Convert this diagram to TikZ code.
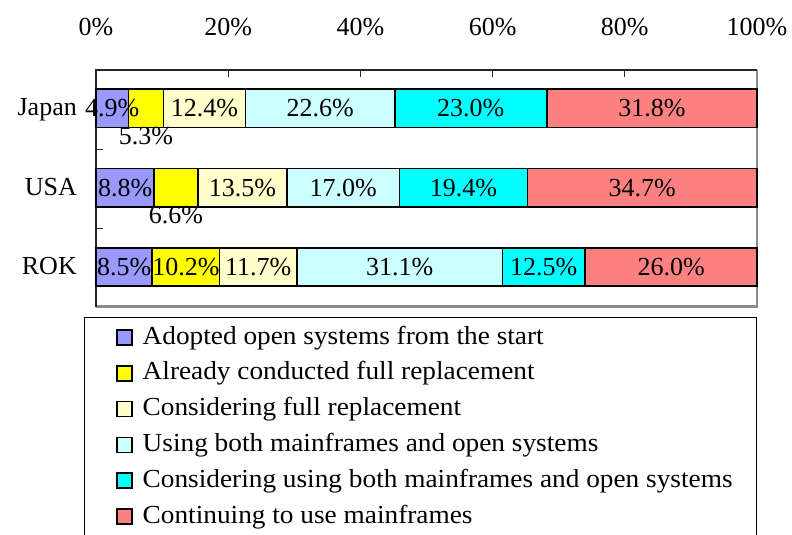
\documentclass[tikz,border=0pt]{standalone}
\usepackage{fontspec}
\setmainfont{Liberation Serif}
\newfontfamily\legendfont{Liberation Serif}[FakeStretch=1.05]

\definecolor{openstart}{HTML}{9999FF}
\definecolor{fullrepl}{HTML}{FFFF00}
\definecolor{consrepl}{HTML}{FFFFCC}
\definecolor{bothuse}{HTML}{CCFFFF}
\definecolor{consboth}{HTML}{00FFFF}
\definecolor{mainfr}{HTML}{FF8080}

\tikzset{
  seg/.style={draw=black, line width=1.6pt},
  val/.style={anchor=center, inner sep=0pt},
  tick/.style={line width=0.8pt, black!85},
  keybox/.style={draw=black, line width=1.5pt, minimum size=15pt, inner sep=0pt},
  keytext/.style={anchor=base west, inner sep=0pt, font=\fontsize{26}{31}\legendfont},
}

\begin{document}
\begin{tikzpicture}[x=1pt, y=-1pt, line join=miter, font=\fontsize{26}{31}\selectfont]

  %% ════ plot area ════
  \draw[line width=2.2pt, black!45] (757,70) -- (757,306.5) -- (96,306.5);
  \draw[line width=1.2pt, black!85] (96,306.5) -- (96,70) -- (757,70);
  \draw[tick] (228.2,70) -- (228.2,77);
  \draw[tick] (360.4,70) -- (360.4,77);
  \draw[tick] (492.6,70) -- (492.6,77);
  \draw[tick] (624.8,70) -- (624.8,77);
  \draw[tick] (96,149) -- (103,149);
  \draw[tick] (96,228.3) -- (103,228.3);

  %% ════ axis labels ════
  \node[anchor=base, inner sep=0pt] (p0) at (96,36) {0\%};
  \node[anchor=base, inner sep=0pt] (p20) at (228.2,36) {20\%};
  \node[anchor=base, inner sep=0pt] (p40) at (360.4,36) {40\%};
  \node[anchor=base, inner sep=0pt] (p60) at (492.6,36) {60\%};
  \node[anchor=base, inner sep=0pt] (p80) at (624.8,36) {80\%};
  \node[anchor=base, inner sep=0pt] (p100) at (757,36) {100\%};

  \node[anchor=base east, inner sep=0pt] (japan) at (77,115.5) {Japan};
  \node[anchor=base east, inner sep=0pt] (usa) at (77,195) {USA};
  \node[anchor=base east, inner sep=0pt] (rok) at (77,274.5) {ROK};

  %% ════ Japan ════
  \draw[seg, fill=openstart] (96,89) rectangle (128.4,127.5);
  \draw[seg, fill=fullrepl] (128.4,89) rectangle (163.4,127.5);
  \draw[seg, fill=consrepl] (163.4,89) rectangle (245.4,127.5);
  \draw[seg, fill=bothuse] (245.4,89) rectangle (394.8,127.5);
  \draw[seg, fill=consboth] (394.8,89) rectangle (546.8,127.5);
  \draw[seg, fill=mainfr] (546.8,89) rectangle (757,127.5);
  \node[val] (jp1) at (112.2,108.2) {4.9\%};
  \node[val] (jp2) at (145.9,135.7) {5.3\%};
  \node[val] (jp3) at (204.4,108.2) {12.4\%};
  \node[val] (jp4) at (320.1,108.2) {22.6\%};
  \node[val] (jp5) at (470.8,108.2) {23.0\%};
  \node[val] (jp6) at (651.9,108.2) {31.8\%};

  %% ════ USA ════
  \draw[seg, fill=openstart] (96,168.4) rectangle (154.2,206.8);
  \draw[seg, fill=fullrepl] (154.2,168.4) rectangle (197.8,206.8);
  \draw[seg, fill=consrepl] (197.8,168.4) rectangle (287.0,206.8);
  \draw[seg, fill=bothuse] (287.0,168.4) rectangle (399.4,206.8);
  \draw[seg, fill=consboth] (399.4,168.4) rectangle (527.6,206.8);
  \draw[seg, fill=mainfr] (527.6,168.4) rectangle (757,206.8);
  \node[val] (us1) at (125.1,187.6) {8.8\%};
  \node[val] (us2) at (176.0,215.0) {6.6\%};
  \node[val] (us3) at (242.4,187.6) {13.5\%};
  \node[val] (us4) at (343.2,187.6) {17.0\%};
  \node[val] (us5) at (463.5,187.6) {19.4\%};
  \node[val] (us6) at (642.3,187.6) {34.7\%};

  %% ════ ROK ════
  \draw[seg, fill=openstart] (96,247.8) rectangle (152.2,286.1);
  \draw[seg, fill=fullrepl] (152.2,247.8) rectangle (219.6,286.1);
  \draw[seg, fill=consrepl] (219.6,247.8) rectangle (296.9,286.1);
  \draw[seg, fill=bothuse] (296.9,247.8) rectangle (502.5,286.1);
  \draw[seg, fill=consboth] (502.5,247.8) rectangle (585.1,286.1);
  \draw[seg, fill=mainfr] (585.1,247.8) rectangle (757,286.1);
  \node[val] (kr1) at (124.1,267.0) {8.5\%};
  \node[val] (kr2) at (185.9,267.0) {10.2\%};
  \node[val] (kr3) at (258.3,267.0) {11.7\%};
  \node[val] (kr4) at (399.7,267.0) {31.1\%};
  \node[val] (kr5) at (543.8,267.0) {12.5\%};
  \node[val] (kr6) at (671.1,267.0) {26.0\%};

  %% ════ legend ════
  \draw[line width=0.9pt] (84,545) -- (84,317.7) -- (756.7,317.7) -- (756.7,545);
  \node[keybox, fill=openstart] (k1) at (124.7,337.5) {};
  \node[keybox, fill=fullrepl] (k2) at (124.7,373.3) {};
  \node[keybox, fill=consrepl] (k3) at (124.7,409.1) {};
  \node[keybox, fill=bothuse] (k4) at (124.7,444.9) {};
  \node[keybox, fill=consboth] (k5) at (124.7,480.7) {};
  \node[keybox, fill=mainfr] (k6) at (124.7,516.5) {};
  \node[keytext] (t1) at (142.5,344.0) {Adopted open systems from the start};
  \node[keytext] (t2) at (142.5,379.8) {Already conducted full replacement};
  \node[keytext] (t3) at (142.5,415.6) {Considering full replacement};
  \node[keytext] (t4) at (142.5,451.4) {Using both mainframes and open systems};
  \node[keytext] (t5) at (142.5,487.2) {Considering using both mainframes and open systems};
  \node[keytext] (t6) at (142.5,523.0) {Continuing to use mainframes};

  % fix the canvas to the reference size
  \pgfresetboundingbox
  \path[use as bounding box] (0,0) rectangle (792,535);
\end{tikzpicture}
\end{document}
